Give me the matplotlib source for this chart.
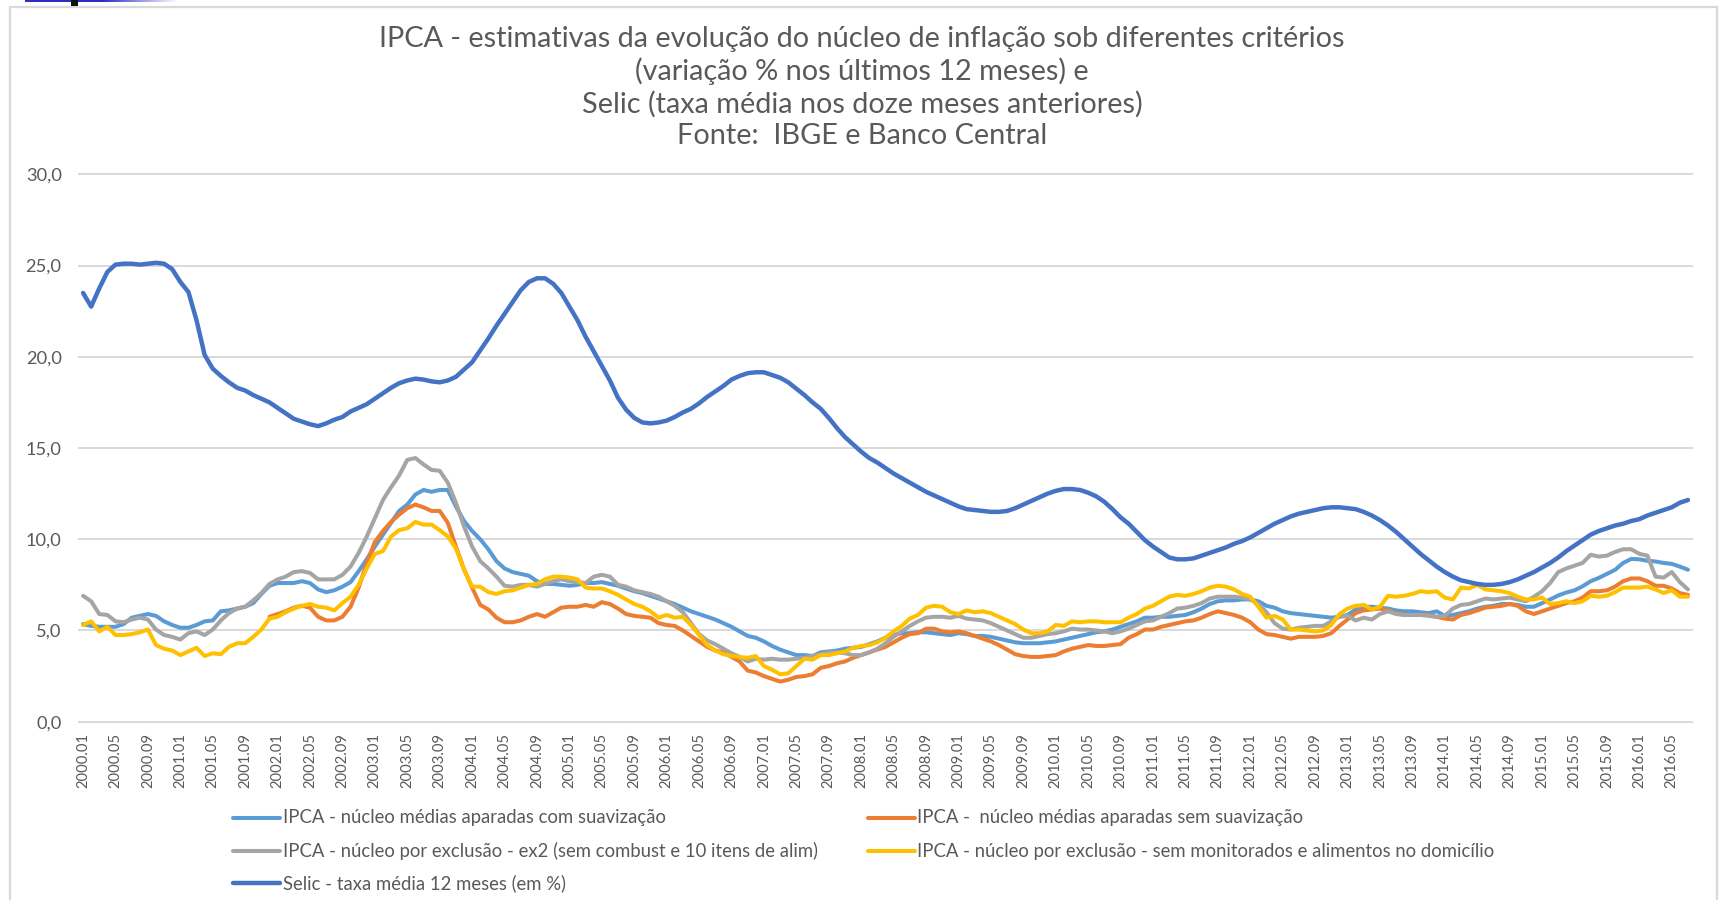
import numpy as np
import matplotlib
matplotlib.use("Agg")
import matplotlib.pyplot as plt
from matplotlib.lines import Line2D
from matplotlib.patches import Rectangle

plt.rcParams['font.family'] = ['Lato', 'DejaVu Sans']

# ---------------- data ----------------
months = [f"{2000 + k // 12}.{k % 12 + 1:02d}" for k in range(199)]

ma_suav = [5.35, 5.25, 5.2, 5.2, 5.2, 5.35, 5.7, 5.8, 5.9, 5.8,
           5.5, 5.3, 5.15, 5.15, 5.3, 5.5, 5.55, 6.05, 6.1, 6.2,
           6.3, 6.5, 7.0, 7.45, 7.6, 7.6, 7.6, 7.7, 7.6, 7.25,
           7.1, 7.2, 7.4, 7.65, 8.25, 8.9, 9.6, 10.25, 10.9, 11.55,
           11.9, 12.45, 12.7, 12.6, 12.7, 12.7, 11.8, 11.0, 10.45, 10.0,
           9.45, 8.8, 8.4, 8.2, 8.1, 8.0, 7.7, 7.55, 7.55, 7.5,
           7.45, 7.5, 7.6, 7.6, 7.65, 7.55, 7.45, 7.3, 7.15, 7.05,
           6.9, 6.75, 6.6, 6.45, 6.25, 6.05, 5.9, 5.75, 5.6, 5.4,
           5.2, 4.95, 4.7, 4.6, 4.4, 4.15, 3.95, 3.8, 3.65, 3.65,
           3.6, 3.8, 3.85, 3.9, 4.0, 4.05, 4.1, 4.25, 4.4, 4.6,
           4.75, 4.85, 4.85, 4.9, 4.9, 4.85, 4.8, 4.75, 4.85, 4.8,
           4.7, 4.7, 4.65, 4.55, 4.45, 4.35, 4.3, 4.3, 4.3, 4.35,
           4.4, 4.5, 4.6, 4.7, 4.8, 4.9, 4.95, 5.05, 5.2, 5.35,
           5.5, 5.7, 5.7, 5.75, 5.75, 5.8, 5.85, 6.0, 6.2, 6.45,
           6.6, 6.65, 6.65, 6.7, 6.7, 6.6, 6.35, 6.25, 6.05, 5.95,
           5.9, 5.85, 5.8, 5.75, 5.7, 5.75, 5.85, 6.15, 6.3, 6.3,
           6.25, 6.2, 6.1, 6.05, 6.05, 6.0, 5.95, 6.05, 5.8, 5.85,
           5.95, 6.05, 6.2, 6.3, 6.35, 6.45, 6.45, 6.4, 6.3, 6.3,
           6.5, 6.7, 6.92, 7.08, 7.2, 7.42, 7.7, 7.88, 8.1, 8.32,
           8.7, 8.92, 8.9, 8.82, 8.78, 8.7, 8.65, 8.5, 8.33]

ma_sem_suav = [None] * 23 + [
           5.75, 5.9, 6.05, 6.25, 6.35, 6.25, 5.75,
           5.55, 5.55, 5.75, 6.3, 7.35, 8.7, 9.85, 10.45, 10.95, 11.35,
           11.7, 11.9, 11.75, 11.55, 11.55, 10.9, 9.6, 8.35, 7.35, 6.4,
           6.15, 5.7, 5.45, 5.45, 5.55, 5.75, 5.9, 5.75, 6.0, 6.25,
           6.3, 6.3, 6.4, 6.3, 6.55, 6.45, 6.2, 5.9, 5.8, 5.75,
           5.7, 5.4, 5.3, 5.25, 5.0, 4.7, 4.4, 4.1, 3.9, 3.8,
           3.55, 3.3, 2.8, 2.7, 2.5, 2.35, 2.2, 2.3, 2.45, 2.5,
           2.6, 2.95, 3.05, 3.2, 3.3, 3.5, 3.65, 3.8, 3.95, 4.1,
           4.35, 4.6, 4.8, 4.85, 5.1, 5.1, 4.95, 4.9, 4.95, 4.85,
           4.7, 4.55, 4.4, 4.2, 3.95, 3.7, 3.6, 3.55, 3.55, 3.6,
           3.65, 3.85, 4.0, 4.1, 4.2, 4.15, 4.15, 4.2, 4.25, 4.6,
           4.8, 5.05, 5.05, 5.2, 5.3, 5.4, 5.5, 5.55, 5.7, 5.9,
           6.05, 5.95, 5.85, 5.7, 5.45, 5.05, 4.8, 4.75, 4.65, 4.55,
           4.65, 4.65, 4.65, 4.7, 4.85, 5.25, 5.6, 5.95, 6.1, 6.15,
           6.2, 6.1, 5.95, 5.85, 5.85, 5.85, 5.85, 5.75, 5.65, 5.6,
           5.85, 5.95, 6.1, 6.25, 6.3, 6.35, 6.45, 6.35, 6.05, 5.9,
           6.05, 6.2, 6.35, 6.5, 6.6, 6.8, 7.15, 7.15, 7.2, 7.4,
           7.7, 7.85, 7.85, 7.7, 7.45, 7.45, 7.3, 7.05, 6.95]

ex2 = [6.9, 6.6, 5.9, 5.85, 5.5, 5.45, 5.6, 5.7, 5.6, 5.05,
       4.75, 4.65, 4.5, 4.85, 4.95, 4.75, 5.05, 5.55, 5.95, 6.2,
       6.3, 6.65, 7.05, 7.55, 7.8, 7.95, 8.2, 8.25, 8.15, 7.8,
       7.8, 7.8, 8.05, 8.5, 9.25, 10.15, 11.15, 12.15, 12.85, 13.5,
       14.35, 14.45, 14.1, 13.8, 13.75, 13.1, 12.0, 10.7, 9.6, 8.8,
       8.4, 7.95, 7.45, 7.4, 7.5, 7.5, 7.4, 7.55, 7.7, 7.8,
       7.7, 7.65, 7.6, 7.95, 8.05, 7.95, 7.5, 7.4, 7.2, 7.1,
       7.0, 6.85, 6.6, 6.35, 6.0, 5.4, 4.8, 4.45, 4.25, 4.0,
       3.75, 3.55, 3.3, 3.45, 3.4, 3.45, 3.4, 3.4, 3.45, 3.5,
       3.6, 3.7, 3.8, 3.8, 3.75, 3.65, 3.65, 3.8, 4.0, 4.3,
       4.65, 4.95, 5.25, 5.5, 5.7, 5.75, 5.75, 5.7, 5.8, 5.65,
       5.6, 5.55, 5.4, 5.2, 5.0, 4.8, 4.6, 4.6, 4.7, 4.8,
       4.85, 4.95, 5.1, 5.05, 5.05, 5.0, 4.95, 4.85, 4.95, 5.1,
       5.3, 5.5, 5.55, 5.75, 5.95, 6.2, 6.25, 6.35, 6.5, 6.75,
       6.85, 6.85, 6.85, 6.8, 6.7, 6.45, 6.0, 5.4, 5.1, 5.05,
       5.15, 5.2, 5.25, 5.25, 5.5, 5.75, 5.8, 5.55, 5.7, 5.6,
       5.9, 6.05, 5.9, 5.85, 5.85, 5.85, 5.8, 5.75, 5.8, 6.2,
       6.4, 6.45, 6.6, 6.75, 6.7, 6.75, 6.8, 6.7, 6.6, 6.85,
       7.15, 7.6, 8.2, 8.4, 8.55, 8.7, 9.15, 9.05, 9.1, 9.3,
       9.45, 9.45, 9.2, 9.1, 7.95, 7.9, 8.2, 7.65, 7.25]

ex_monit = [5.3, 5.5, 4.95, 5.2, 4.75, 4.75, 4.8, 4.9, 5.05, 4.2,
            4.0, 3.9, 3.65, 3.85, 4.05, 3.6, 3.75, 3.7, 4.1, 4.3,
            4.3, 4.65, 5.05, 5.65, 5.75, 6.0, 6.2, 6.35, 6.45, 6.3,
            6.25, 6.1, 6.5, 6.85, 7.5, 8.4, 9.2, 9.35, 10.15, 10.5,
            10.6, 10.95, 10.8, 10.8, 10.5, 10.15, 9.5, 8.35, 7.4, 7.4,
            7.1, 7.0, 7.15, 7.2, 7.35, 7.5, 7.55, 7.8, 7.95, 7.95,
            7.9, 7.8, 7.35, 7.3, 7.3, 7.15, 6.95, 6.7, 6.45, 6.3,
            6.05, 5.7, 5.85, 5.7, 5.75, 5.3, 4.75, 4.2, 3.9, 3.7,
            3.6, 3.55, 3.5, 3.6, 3.05, 2.85, 2.6, 2.65, 3.05, 3.45,
            3.4, 3.65, 3.65, 3.75, 3.85, 4.05, 4.15, 4.2, 4.35, 4.6,
            4.95, 5.25, 5.65, 5.85, 6.25, 6.35, 6.3, 6.0, 5.9, 6.1,
            6.0, 6.05, 5.95, 5.75, 5.55, 5.35, 5.05, 4.85, 4.85, 4.95,
            5.3, 5.25, 5.5, 5.45, 5.5, 5.5, 5.45, 5.45, 5.45, 5.7,
            5.9, 6.2, 6.35, 6.6, 6.85, 6.95, 6.9, 7.0, 7.15, 7.35,
            7.45, 7.4, 7.25, 7.0, 6.85, 6.3, 5.7, 5.8, 5.6, 5.05,
            5.05, 5.0, 4.95, 5.0, 5.3, 5.9, 6.2, 6.35, 6.4, 6.15,
            6.3, 6.9, 6.85, 6.9, 7.0, 7.15, 7.1, 7.15, 6.8, 6.7,
            7.35, 7.3, 7.5, 7.25, 7.2, 7.15, 7.05, 6.85, 6.7, 6.7,
            6.8, 6.45, 6.5, 6.6, 6.5, 6.6, 6.9, 6.85, 6.9, 7.1,
            7.35, 7.35, 7.35, 7.4, 7.25, 7.05, 7.2, 6.85, 6.85]

selic = [23.5, 22.75, 23.75, 24.65, 25.05, 25.1, 25.1, 25.05, 25.1, 25.15,
         25.1, 24.8, 24.1, 23.55, 22.0, 20.1, 19.35, 18.95, 18.6, 18.3,
         18.15, 17.9, 17.7, 17.5, 17.2, 16.9, 16.6, 16.45, 16.3, 16.2,
         16.35, 16.55, 16.7, 17.0, 17.2, 17.4, 17.7, 18.0, 18.3, 18.55,
         18.7, 18.8, 18.75, 18.65, 18.6, 18.7, 18.9, 19.3, 19.7, 20.35,
         21.0, 21.7, 22.35, 23.0, 23.65, 24.1, 24.3, 24.3, 24.0, 23.5,
         22.75, 22.0, 21.1, 20.3, 19.5, 18.7, 17.75, 17.1, 16.65, 16.4,
         16.35, 16.4, 16.5, 16.7, 16.95, 17.15, 17.45, 17.8, 18.1, 18.4,
         18.75, 18.95, 19.1, 19.15, 19.15, 19.0, 18.85, 18.6, 18.25, 17.9,
         17.5, 17.15, 16.65, 16.1, 15.6, 15.2, 14.8, 14.45, 14.2, 13.9,
         13.6, 13.35, 13.1, 12.85, 12.6, 12.4, 12.2, 12.0, 11.8, 11.65,
         11.6, 11.55, 11.5, 11.5, 11.55, 11.7, 11.9, 12.1, 12.3, 12.5,
         12.65, 12.75, 12.75, 12.7, 12.55, 12.35, 12.05, 11.65, 11.2, 10.85,
         10.4, 9.95, 9.6, 9.3, 9.0, 8.9, 8.9, 8.95, 9.1, 9.25,
         9.4, 9.55, 9.75, 9.9, 10.1, 10.35, 10.6, 10.85, 11.05, 11.25,
         11.4, 11.5, 11.6, 11.7, 11.75, 11.75, 11.7, 11.65, 11.5, 11.3,
         11.05, 10.75, 10.4, 10.0, 9.6, 9.2, 8.85, 8.5, 8.2, 7.95,
         7.75, 7.65, 7.55, 7.5, 7.5, 7.55, 7.65, 7.8, 8.0, 8.2,
         8.45, 8.7, 9.0, 9.35, 9.65, 9.95, 10.25, 10.45, 10.6, 10.75,
         10.85, 11.0, 11.1, 11.3, 11.45, 11.6, 11.75, 12.0, 12.15]

series_labels = ["IPCA - núcleo médias aparadas com suavização",
                 "IPCA -  núcleo médias aparadas sem suavização",
                 "IPCA - núcleo por exclusão - ex2 (sem combust e 10 itens de alim)",
                 "IPCA - núcleo por exclusão - sem monitorados e alimentos no domicílio",
                 "Selic - taxa média 12 meses (em %)"]
series_colors = ['#5B9BD5', '#ED7D31', '#A5A5A5', '#FFC000', '#4472C4']

title_lines = ["IPCA - estimativas da evolução do núcleo de inflação sob diferentes critérios",
               "(variação % nos últimos 12 meses) e",
               "Selic (taxa média nos doze meses anteriores)",
               "Fonte:  IBGE e Banco Central"]

yticks = [0, 5, 10, 15, 20, 25, 30]

# ---------------- figure ----------------
W, H = 1719, 900
fig = plt.figure(figsize=(W / 100, H / 100), dpi=100)
fig.patch.set_facecolor('white')
TXT = '#595959'

ax = fig.add_axes([79 / W, 1 - 721.7 / H, (1692 - 79) / W, (721.7 - 174.3) / H])
x = np.arange(len(months))
all_series = [ma_suav, ma_sem_suav, ex2, ex_monit, selic]
widths = [2.9, 2.9, 2.9, 2.9, 3.2]
for vals, col, lw in zip(all_series, series_colors, widths):
    y = np.array([np.nan if v is None else v for v in vals], dtype=float)
    ax.plot(x, y, color=col, lw=lw, solid_joinstyle='round', solid_capstyle='round')

ax.set_xlim(-0.5, len(months) - 0.5)
ax.set_ylim(0, 30)
ax.set_yticks(yticks)
ax.set_yticklabels([f"{v:.1f}".replace('.', ',') for v in yticks])
ax.set_xticks(x[::4])
ax.set_xticklabels(months[::4], rotation=90)
for s in ax.spines.values():
    s.set_visible(False)
ax.tick_params(axis='both', length=0, colors=TXT, labelsize=12)
ax.tick_params(axis='y', pad=12.5)
ax.tick_params(axis='x', pad=8.0)
ax.yaxis.grid(True, color='#D9D9D9', lw=1.4)
ax.set_axisbelow(True)
for gl in ax.get_ygridlines():
    gl.set_clip_on(False)

# chart border
fig.add_artist(Rectangle((10 / W, -0.05), (1717 - 10) / W, (1 - 7 / H) + 0.05,
                         transform=fig.transFigure, fill=False, edgecolor='#D9D9D9', lw=1.6))

# top-left screenshot artifacts
fig.add_artist(Rectangle((25 / W, 1 - 2.2 / H), (102 - 25) / W, 2.2 / H, transform=fig.transFigure,
                         facecolor='#2C2CC8', edgecolor='none'))
gax = fig.add_axes([102 / W, 1 - 2.2 / H, 75 / W, 2.2 / H])
grad = np.linspace(0, 1, 64)
img = np.zeros((1, 64, 3))
img[0, :, 0] = 0.17 + 0.83 * grad
img[0, :, 1] = 0.17 + 0.83 * grad
img[0, :, 2] = 0.78 + 0.22 * grad
gax.imshow(img, aspect='auto', interpolation='bilinear')
gax.axis('off')
fig.add_artist(Rectangle((71 / W, 1 - 6 / H), 7 / W, 6 / H, transform=fig.transFigure,
                         facecolor='#111111', edgecolor='none'))

# title
title_y = [38.5, 71, 104, 136]
title_texts = [fig.text(862 / W, 1 - yy / H, t, ha='center', va='center', color=TXT, fontsize=18)
               for t, yy in zip(title_lines, title_y)]

# legend (manual)
rows = [818, 851, 883]
entries = [(0, 0, 0), (1, 1, 0), (2, 0, 1), (3, 1, 1), (4, 0, 2)]
handle_x = [(233, 280), (868, 915)]
text_x = [282.5, 917]
leg_texts = []
for si, c, r in entries:
    yy = 1 - rows[r] / H
    fig.add_artist(Line2D([handle_x[c][0] / W, handle_x[c][1] / W], [yy, yy],
                          transform=fig.transFigure, color=series_colors[si],
                          lw=widths[si], solid_capstyle='round'))
    leg_texts.append(fig.text(text_x[c] / W, yy, series_labels[si], ha='left', va='center',
                              color=TXT, fontsize=14))

# ---------------- fit text sizes to the reference extents ----------------
fig.canvas.draw()
r = fig.canvas.get_renderer()
for _ in range(2):
    w = title_texts[0].get_window_extent(r).width
    fs = title_texts[0].get_fontsize() * 966 / w
    for t in title_texts:
        t.set_fontsize(fs)
    w = leg_texts[0].get_window_extent(r).width
    fs = leg_texts[0].get_fontsize() * 384 / w
    for t in leg_texts:
        t.set_fontsize(fs)
    lab = ax.get_xticklabels()[0]
    h = lab.get_window_extent(r).height
    ax.tick_params(axis='x', labelsize=lab.get_fontsize() * 55 / h)
    lab = ax.get_yticklabels()[-1]
    w = lab.get_window_extent(r).width
    ax.tick_params(axis='y', labelsize=lab.get_fontsize() * 36 / w)
    fig.canvas.draw()

fig.savefig('out.png', dpi=100, facecolor='white')
